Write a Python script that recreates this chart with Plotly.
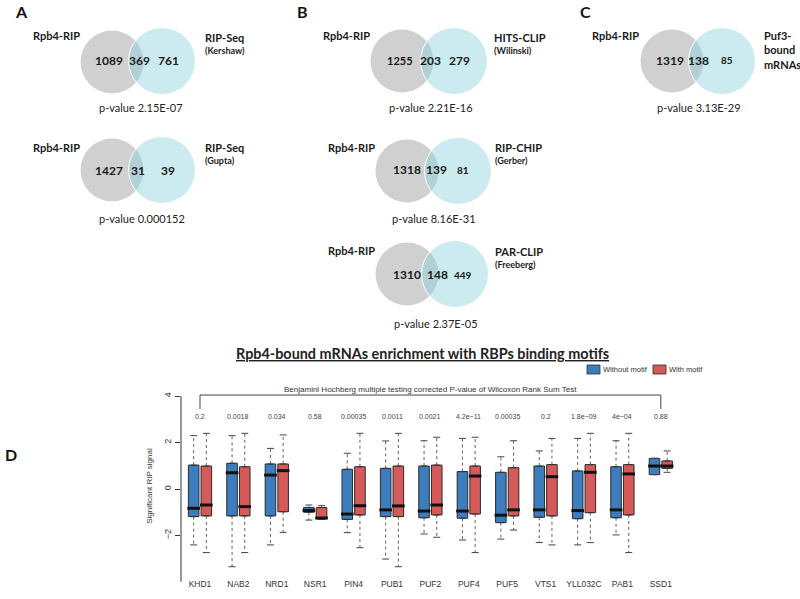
import numpy as np
import plotly.graph_objects as go

W, H = 800, 599

# ---------------- Venn data (panels A, B, C) ----------------
venn_left_name = ["Rpb4-RIP", "Rpb4-RIP", "Rpb4-RIP", "Rpb4-RIP", "Rpb4-RIP", "Rpb4-RIP"]
venn_right_name = ["RIP-Seq", "RIP-Seq", "HITS-CLIP", "RIP-CHIP", "PAR-CLIP", "Puf3-<br>bound<br>mRNAs"]
venn_right_source = ["(Kershaw)", "(Gupta)", "(Wilinski)", "(Gerber)", "(Freeberg)", ""]
venn_only_left = [1089, 1427, 1255, 1318, 1310, 1319]
venn_overlap = [369, 31, 203, 139, 148, 138]
venn_only_right = [761, 39, 279, 81, 449, 85]
venn_pvalues = ["2.15E-07", "0.000152", "2.21E-16", "8.16E-31", "2.37E-05", "3.13E-29"]
panel_letters = ["A", "B", "C", "D"]

# ---------------- Box-plot data (panel D) ----------------
motifs = ["KHD1", "NAB2", "NRD1", "NSR1", "PIN4", "PUB1", "PUF2", "PUF4", "PUF5",
          "VTS1", "YLL032C", "PAB1", "SSD1"]
bh_pvalues = ["0.2", "0.0018", "0.034", "0.58", "0.00035", "0.0011", "0.0021",
              "4.2e\u221211", "0.00035", "0.2", "1.8e\u221209", "4e\u221204", "0.88"]
series_names = ["Without motif", "With motif"]

without_q1 = [-1.19, -1.16, -1.16, -1.00, -1.31, -1.19, -1.24, -1.26, -1.45, -1.22, -1.28, -1.24, 0.62]
without_med = [-0.83, 0.70, 0.60, -0.93, -1.08, -0.90, -0.95, -0.95, -1.13, -0.90, -0.93, -0.90, 0.99]
without_q3 = [1.03, 1.11, 1.08, -0.80, 0.85, 0.89, 0.99, 0.75, 0.72, 0.99, 0.78, 0.96, 1.32]
without_lo = [-2.41, -3.35, -2.41, -1.34, -1.88, -3.02, -1.94, -2.20, -2.16, -2.31, -2.41, -1.98, 0.62]
without_hi = [2.30, 2.30, 1.75, -0.69, 1.54, 2.07, 2.08, 2.18, 1.39, 1.64, 2.18, 2.08, 1.32]

with_q1 = [-1.16, -1.16, -0.98, -1.29, -1.12, -1.19, -1.12, -1.08, -1.16, -1.16, -1.02, -1.12, 0.89]
with_med = [-0.69, -0.76, 0.79, -1.25, -0.72, -0.73, -0.69, 0.56, -0.90, 0.53, 0.72, 0.65, 0.99]
with_q3 = [0.99, 0.96, 1.08, -0.80, 0.96, 0.99, 1.03, 0.99, 0.92, 1.05, 1.05, 1.05, 1.21]
with_lo = [-2.74, -2.74, -1.87, -1.30, -2.53, -3.35, -2.08, -2.74, -1.77, -2.41, -2.31, -2.74, 0.72]
with_hi = [2.40, 2.40, 2.33, -0.72, 2.40, 2.40, 2.23, 2.23, 2.08, 2.18, 2.40, 2.40, 1.64]

y_ticks = [-4, -2, 0, 2, 4]

# ---------------- styling / layout helpers ----------------
def px(x):
    return x / W

def py(y):
    return 1 - y / H

VENN_FONT = "Lato"
BOX_FONT = "Liberation Sans"
GRAY = "#d0d0d0"
CYAN = "rgba(140,210,222,0.45)"
BLUE = "#3d7dbd"
RED = "#d65a5a"

venn_geom = [
    dict(g=(112, 62), b=(162, 61), ny=60, nx=(109, 139, 168), lx=56, ly=36, rx=203, ry=38, sy=51, p=(141, 108)),
    dict(g=(112, 170), b=(162, 170), ny=171, nx=(109, 138, 168), lx=56, ly=147, rx=203, ry=147, sy=160, p=(142, 218)),
    dict(g=(402, 61), b=(454, 61), ny=60, nx=(400, 431, 459), lx=346, ly=36, rx=492, ry=38, sy=51, p=(431, 108)),
    dict(g=(407, 171), b=(458, 171), ny=170, nx=(407, 436, 463), lx=351, ly=147, rx=493, ry=147, sy=160, p=(434, 218)),
    dict(g=(407, 274), b=(455, 274), ny=275, nx=(407, 437, 463), lx=351, ly=250, rx=493, ry=251, sy=264, p=(436, 323)),
    dict(g=(672, 61), b=(722, 61), ny=60, nx=(670, 698, 727), lx=615, ly=36, rx=762, ry=50, sy=None, p=(699, 108)),
]
count_sizes = [(12, 12, 12), (12, 12, 12), (11, 12, 12), (12, 12, 10), (12, 12, 10), (12, 12, 10)]
letter_pos = [(21, 0), (302, 0), (585, 0), (11, 443)]

RG, RB = 31.5, 33.5

shapes = []
annotations = []

for i, gm in enumerate(venn_geom):
    gx, gy = gm["g"]
    bx, by = gm["b"]
    shapes.append(dict(type="circle", xref="paper", yref="paper",
                       x0=px(gx - RG), x1=px(gx + RG), y0=py(gy + RG), y1=py(gy - RG),
                       fillcolor=GRAY, line=dict(width=0), layer="above"))
    shapes.append(dict(type="circle", xref="paper", yref="paper",
                       x0=px(bx - RB), x1=px(bx + RB), y0=py(by + RB), y1=py(by - RB),
                       fillcolor=CYAN, line=dict(color="white", width=1), layer="above"))
    counts = [venn_only_left[i], venn_overlap[i], venn_only_right[i]]
    for j, c in enumerate(counts):
        annotations.append(dict(x=px(gm["nx"][j]), y=py(gm["ny"]), xref="paper", yref="paper",
                                text=f"<b>{c}</b>", showarrow=False, xanchor="center", yanchor="middle",
                                font=dict(family=VENN_FONT, size=count_sizes[i][j], color="#1a1a1a")))
    annotations.append(dict(x=px(gm["lx"]), y=py(gm["ly"]), xref="paper", yref="paper",
                            text=f"<b>{venn_left_name[i]}</b>", showarrow=False,
                            xanchor="center", yanchor="middle",
                            font=dict(family=VENN_FONT, size=11, color="#1a1a1a")))
    annotations.append(dict(x=px(gm["rx"]), y=py(gm["ry"]), xref="paper", yref="paper",
                            text=f"<b>{venn_right_name[i]}</b>", showarrow=False,
                            xanchor="left", yanchor="middle", align="left",
                            font=dict(family=VENN_FONT, size=11, color="#1a1a1a")))
    if venn_right_source[i]:
        annotations.append(dict(x=px(gm["rx"]), y=py(gm["sy"]), xref="paper", yref="paper",
                                text=f"<b>{venn_right_source[i]}</b>", showarrow=False,
                                xanchor="left", yanchor="middle",
                                font=dict(family=VENN_FONT, size=9, color="#1a1a1a")))
    annotations.append(dict(x=px(gm["p"][0]), y=py(gm["p"][1]), xref="paper", yref="paper",
                            text=f"p-value {venn_pvalues[i]}", showarrow=False,
                            xanchor="center", yanchor="middle",
                            font=dict(family=VENN_FONT, size=11, color="#222222")))

for k, (lx, ly) in enumerate(letter_pos):
    annotations.append(dict(x=px(lx), y=py(ly), xref="paper", yref="paper",
                            text=f"<b>{panel_letters[k]}</b>", showarrow=False,
                            xanchor="center", yanchor="top",
                            font=dict(family=VENN_FONT, size=16, color="#111111")))

# ---------------- Box plot ----------------
n = len(motifs)
idx = np.arange(n)
OFF = 0.165
BW = 0.275
x_wo = idx - OFF
x_wi = idx + OFF

fig = go.Figure()

def add_group(xs, q1, med, q3, lo, hi, color, name):
    fig.add_trace(go.Box(
        x=xs, q1=q1, median=med, q3=q3, lowerfence=q1, upperfence=q3,
        width=BW, fillcolor=color, line=dict(color="#2b2b2b", width=1),
        name=name, boxpoints=False, hoverinfo="skip", showlegend=False))
    wx, wy = [], []
    for xv, a, b, c, d in zip(xs, q1, lo, q3, hi):
        wx += [xv, xv, None, xv, xv, None]
        wy += [c, d, None, a, b, None]
    fig.add_trace(go.Scatter(x=wx, y=wy, mode="lines", line=dict(color="#606060", width=1, dash="dot"),
                             showlegend=False, hoverinfo="skip"))
    fig.add_trace(go.Scatter(x=list(xs) + list(xs), y=list(hi) + list(lo), mode="markers",
                             marker=dict(symbol="line-ew", size=5, line=dict(color="#444444", width=1)),
                             showlegend=False, hoverinfo="skip"))
    fig.add_trace(go.Scatter(x=xs, y=med, mode="markers",
                             marker=dict(symbol="line-ew", size=9, line=dict(color="#111111", width=3)),
                             showlegend=False, hoverinfo="skip"))

add_group(x_wo, without_q1, without_med, without_q3, without_lo, without_hi, BLUE, series_names[0])
add_group(x_wi, with_q1, with_med, with_q3, with_lo, with_hi, RED, series_names[1])

# legend (drawn as keys + labels)
legend_keys = [(587, BLUE), (653, RED)]
for (kx, col), name in zip(legend_keys, series_names):
    shapes.append(dict(type="rect", xref="paper", yref="paper",
                       x0=px(kx), x1=px(kx + 13), y0=py(374), y1=py(365),
                       fillcolor=col, line=dict(color="#2b2b2b", width=0.8)))
    annotations.append(dict(x=px(kx + 14), y=py(369.5), xref="paper", yref="paper", text=name,
                            showarrow=False, xanchor="left", yanchor="middle",
                            font=dict(family=BOX_FONT, size=7.5, color="#333333")))

# p-values above each motif
for i, pv in enumerate(bh_pvalues):
    annotations.append(dict(x=i, y=3.12, xref="x", yref="y", text=pv, showarrow=False,
                            font=dict(family=BOX_FONT, size=7, color="#444444")))

annotations.append(dict(x=6, y=4.31, xref="x", yref="y",
                        text="Benjamini Hochberg multiple testing corrected P-value of Wilcoxon Rank Sum Test",
                        showarrow=False, font=dict(family=BOX_FONT, size=8, color="#333333")))

annotations.append(dict(x=px(422), y=py(353), xref="paper", yref="paper",
                        text="<b><u>Rpb4-bound mRNAs enrichment with RBPs binding motifs</u></b>",
                        showarrow=False, font=dict(family=VENN_FONT, size=14.4, color="#222222")))

# bracket
shapes.append(dict(type="path", xref="x", yref="y",
                   path=f"M 0,3.45 L 0,4.05 L {n-1},4.05 L {n-1},3.45",
                   line=dict(color="#444444", width=1)))

# y axis line spanning tick range
AXX = 181
shapes.append(dict(type="line", xref="paper", yref="y", x0=px(AXX), x1=px(AXX),
                   y0=min(y_ticks), y1=max(y_ticks), line=dict(color="#333333", width=1)))

fig.update_layout(
    width=W, height=H,
    margin=dict(l=0, r=0, t=0, b=0),
    paper_bgcolor="white", plot_bgcolor="rgba(0,0,0,0)",
    boxmode="overlay",
    shapes=shapes, annotations=annotations,
    showlegend=False,
    xaxis=dict(domain=[px(AXX), px(690)], range=[-(200 - AXX) / 38.4, (690 - 200) / 38.4],
               tickmode="array", tickvals=idx, ticktext=motifs, ticks="",
               showgrid=False, zeroline=False, showline=False, ticklabelposition="inside",
               automargin=False,
               tickfont=dict(family=BOX_FONT, size=8.5, color="#333333")),
    yaxis=dict(domain=[1 - 592 / H, 1 - 380 / H], range=[-(592 - 489) / 23.2, (489 - 380) / 23.2],
               tickmode="array", tickvals=y_ticks, ticks="outside", ticklen=5, tickcolor="#333333",
               tickangle=-90, showgrid=False, zeroline=False, showline=False, automargin=False,
               tickfont=dict(family=BOX_FONT, size=9, color="#333333"),
               title=dict(text="Significant RIP signal", font=dict(family=BOX_FONT, size=8, color="#333333"),
                          standoff=9)),
)

fig.write_html("out.html", config={"displayModeBar": False},
               post_script="document.body.style.margin='0px';document.body.style.overflow='hidden';")
